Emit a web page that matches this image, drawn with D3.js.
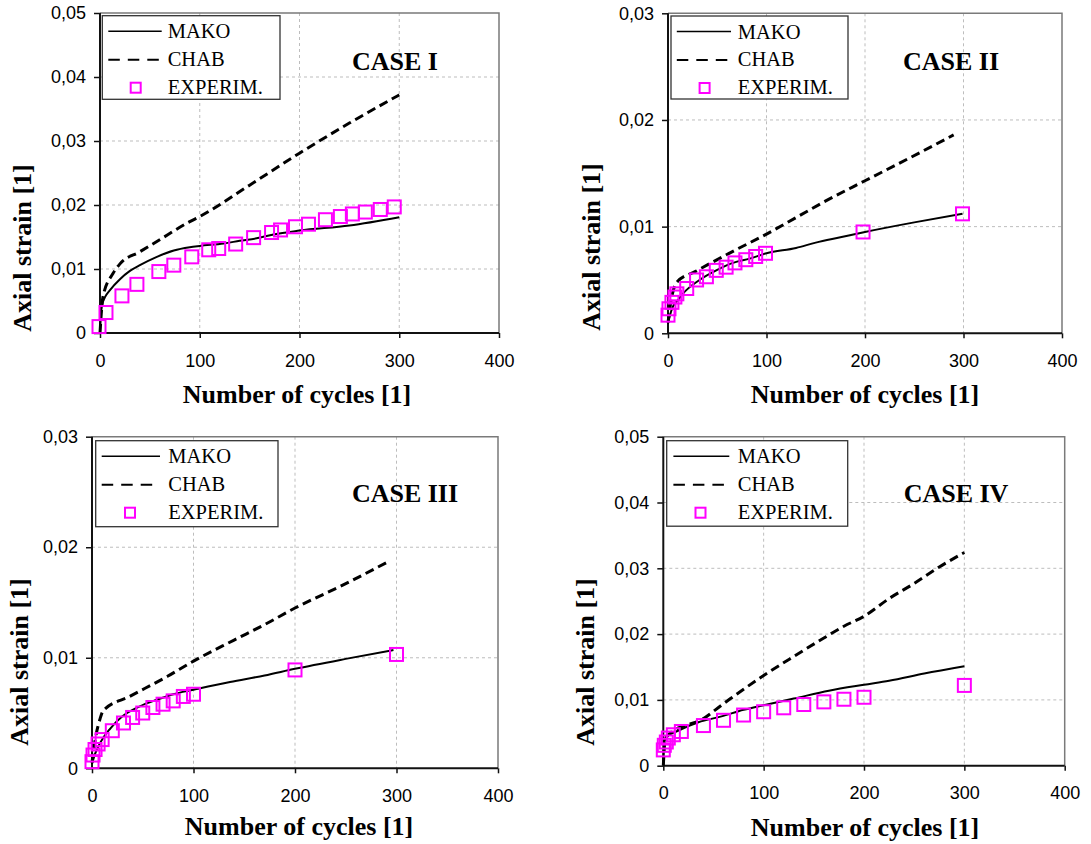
<!DOCTYPE html>
<meta charset="utf-8">
<style>
	body {
		margin: 0;
		background: #fff;
	}
	svg text {
		fill: #000;
	}
</style>
<body>
<script src="https://cdn.jsdelivr.net/npm/d3@7"></script>
<script>
	// ---- data: [cycles, axial strain] ----
	var cycleTicks = [0, 100, 200, 300, 400];
	var seriesNames = ["MAKO", "CHAB", "EXPERIM."];
	var caseTitles = ["CASE I", "CASE II", "CASE III", "CASE IV"];
	var strainMax = [0.05, 0.03, 0.03, 0.05];

	var case1Mako = [[0, 0], [1, 0.003], [2, 0.0043], [5, 0.0056], [10, 0.0067], [20, 0.0084], [30, 0.0097], [40, 0.0106], [57, 0.0119], [74, 0.0129], [90, 0.0134], [100, 0.0136], [124, 0.0140], [140, 0.0144], [157, 0.0148], [174, 0.0154], [200, 0.0160], [250, 0.0168], [300, 0.0181]];
	var case1Chab = [[0, 0], [3, 0.0057], [13, 0.0093], [20, 0.0108], [40, 0.0127], [57, 0.0143], [90, 0.0174], [100, 0.0182], [150, 0.0231], [200, 0.0281], [250, 0.0328], [300, 0.0372]];
	var case1ExpN = [-1, 6, 22, 37, 59, 74, 92, 109, 119, 136, 154, 172, 181, 196, 209, 226, 241, 253, 266, 281, 295];
	var case1ExpS = [0.0010, 0.0032, 0.0058, 0.0076, 0.0096, 0.0106, 0.0119, 0.0130, 0.0132, 0.0139, 0.0149, 0.0157, 0.0161, 0.0166, 0.0170, 0.0177, 0.0182, 0.0186, 0.0189, 0.0193, 0.0197];

	var case2Mako = [[0, 0.0009], [2, 0.0017], [5, 0.0025], [10, 0.0031], [15, 0.0037], [32, 0.0050], [49, 0.0059], [66, 0.0066], [83, 0.0070], [100, 0.0075], [130, 0.0080], [150, 0.0085], [175, 0.0090], [200, 0.0095], [250, 0.0104], [299, 0.0112]];
	var case2Chab = [[0, 0.001], [3, 0.003], [9, 0.0048], [28, 0.0058], [62, 0.0075], [100, 0.0093], [131, 0.0109], [158, 0.0123], [200, 0.0143], [234, 0.0159], [290, 0.0186]];
	var case2ExpN = [0, 1, 4, 7, 9, 19, 29, 39, 49, 59, 68, 79, 89, 99, 198, 299];
	var case2ExpS = [0.0017, 0.0023, 0.0029, 0.0034, 0.0037, 0.0042, 0.0050, 0.0053, 0.0059, 0.0062, 0.0066, 0.0069, 0.0072, 0.0075, 0.0095, 0.0112];

	var case3Mako = [[0, 0.0004], [3, 0.0013], [8, 0.0023], [18, 0.0036], [30, 0.0047], [47, 0.0056], [64, 0.0062], [80, 0.0067], [100, 0.0071], [136, 0.0078], [170, 0.0084], [200, 0.0090], [250, 0.0099], [297, 0.0107]];
	var case3Chab = [[0, 0.0005], [3, 0.0025], [8, 0.0045], [11, 0.0052], [37, 0.0065], [74, 0.0083], [100, 0.0097], [140, 0.0116], [170, 0.0130], [200, 0.0145], [250, 0.0167], [294, 0.0188]];
	var case3ExpN = [0, 1, 3, 6, 10, 20, 31, 40, 50, 60, 70, 80, 90, 100, 200, 300];
	var case3ExpS = [0.0006, 0.0012, 0.0017, 0.0022, 0.0026, 0.0034, 0.0041, 0.0046, 0.0050, 0.0055, 0.0058, 0.0061, 0.0065, 0.0067, 0.0089, 0.0103];

	var case4Mako = [[0, 0.0003], [1, 0.0035], [3, 0.0044], [13, 0.0052], [35, 0.0066], [58, 0.0075], [80, 0.0085], [100, 0.0092], [130, 0.0102], [165, 0.0114], [200, 0.0123], [225, 0.0129], [260, 0.0140], [300, 0.0151]];
	var case4Chab = [[0, 0], [2, 0.004], [10, 0.0053], [20, 0.0060], [37, 0.0069], [58, 0.0092], [67, 0.0102], [100, 0.0137], [130, 0.0166], [160, 0.0194], [180, 0.0212], [200, 0.0227], [225, 0.0254], [250, 0.0277], [275, 0.0302], [300, 0.0324]];
	var case4ExpN = [0, 1, 3, 5, 10, 18, 40, 60, 80, 100, 120, 140, 160, 180, 200, 300];
	var case4ExpS = [0.0024, 0.0031, 0.0036, 0.0042, 0.0047, 0.0052, 0.0061, 0.0069, 0.0077, 0.0082, 0.0088, 0.0093, 0.0097, 0.0101, 0.0104, 0.0122];

	// ---- layout of the four panels ----
	var panels = [
		{mako: case1Mako, chab: case1Chab, expN: case1ExpN, expS: case1ExpS,
			left: 100, right: 499, top: 13, bottom: 333,
			leg: {x: 102.3, y: 15.7, w: 177.7, h: 83.6, l0: 108.3, l1: 161.7, sq: 135.7, tx: 167.7},
			title: [395, 70], xLab: [297, 403], yLab: [31, 248]},
		{mako: case2Mako, chab: case2Chab, expN: case2ExpN, expS: case2ExpS,
			left: 668, right: 1062, top: 13.3, bottom: 333.3,
			leg: {x: 671, y: 16, w: 177, h: 83, l0: 676.8, l1: 731, sq: 704.6, tx: 737.8},
			title: [951, 70], xLab: [865, 403], yLab: [600, 247]},
		{mako: case3Mako, chab: case3Chab, expN: case3ExpN, expS: case3ExpS,
			left: 92, right: 498, top: 436.7, bottom: 768.3,
			leg: {x: 95.7, y: 440.7, w: 182.3, h: 86, l0: 101.7, l1: 160, sq: 130, tx: 168.3},
			title: [405, 501.7], xLab: [299, 835], yLab: [28, 662]},
		{mako: case4Mako, chab: case4Chab, expN: case4ExpN, expS: case4ExpS,
			left: 663.3, right: 1064.7, top: 436.7, bottom: 765.7,
			leg: {x: 666.7, y: 440.7, w: 181, h: 85.5, l0: 673.4, l1: 729.3, sq: 700.5, tx: 737.8},
			title: [956, 501.7], xLab: [865, 836], yLab: [594, 662]}
	];

	var serif = "'Liberation Serif', 'Times New Roman', serif";
	var sans = "'Liberation Sans', Arial, sans-serif";
	var magenta = "#ff00ff";

	var locale = d3.formatLocale({decimal: ",", thousands: " ", grouping: [3], currency: ["", ""]});
	var f2 = locale.format(".2f");
	var yFmt = function(d) { return d === 0 ? "0" : f2(d); };

	var svg = d3.select("body").append("svg")
		.attr("width", 1091)
		.attr("height", 844);

	panels.forEach(function(p, i) {
		var x = d3.scaleLinear().domain([0, 400]).range([p.left, p.right]);
		var y = d3.scaleLinear().domain([0, strainMax[i]]).range([p.bottom, p.top]);
		var yTicks = d3.range(0, strainMax[i] + 0.0001, 0.01);

		var g = svg.append("g");

		// grid
		g.selectAll(".hgrid")
			.data(yTicks.slice(1, -1))
			.enter().append("line")
			.attr("x1", p.left).attr("x2", p.right)
			.attr("y1", y).attr("y2", y)
			.attr("stroke", "#bdbdbd").attr("stroke-dasharray", "3,3");
		g.selectAll(".vgrid")
			.data(cycleTicks.slice(1, -1))
			.enter().append("line")
			.attr("x1", x).attr("x2", x)
			.attr("y1", p.top).attr("y2", p.bottom)
			.attr("stroke", "#bdbdbd").attr("stroke-dasharray", "3,3");

		// frame (top + right)
		g.append("path")
			.attr("d", "M" + p.left + "," + p.top + "H" + p.right + "V" + p.bottom)
			.attr("fill", "none").attr("stroke", "#7a7a7a").attr("stroke-width", 1.5);

		// axes
		var yAxis = g.append("g")
			.attr("transform", "translate(" + p.left + ",0)")
			.call(d3.axisLeft(y).tickValues(yTicks).tickFormat(yFmt).tickSize(6).tickPadding(8));
		var xAxis = g.append("g")
			.attr("transform", "translate(0," + p.bottom + ")")
			.call(d3.axisBottom(x).tickValues(cycleTicks).tickSize(5).tickPadding(16));
		[yAxis, xAxis].forEach(function(a) {
			a.attr("font-family", sans).attr("font-size", 18);
			a.select(".domain").attr("stroke", "#111").attr("stroke-width", 2);
			a.selectAll(".tick line").attr("stroke", "#111").attr("stroke-width", 1.5);
		});
		xAxis.select(".domain").attr("d", "M" + p.left + ",0H" + p.right);
		yAxis.select(".domain").attr("d", "M0," + p.bottom + "V" + p.top);

		// model curves
		var line = d3.line()
			.x(function(d) { return x(d[0]); })
			.y(function(d) { return y(d[1]); })
			.curve(d3.curveMonotoneX);

		g.append("path")
			.datum(p.chab)
			.attr("d", line)
			.attr("fill", "none").attr("stroke", "#000")
			.attr("stroke-width", 3).attr("stroke-dasharray", "9,5");
		g.append("path")
			.datum(p.mako)
			.attr("d", line)
			.attr("fill", "none").attr("stroke", "#000").attr("stroke-width", 2);

		// experiment squares
		var s = 13;
		g.selectAll(".exp")
			.data(p.expN)
			.enter().append("rect")
			.attr("x", function(d) { return x(d) - s / 2; })
			.attr("y", function(d, j) { return y(p.expS[j]) - s / 2; })
			.attr("width", s).attr("height", s)
			.attr("fill", "none").attr("stroke", magenta).attr("stroke-width", 2);

		// legend
		var L = p.leg;
		var rows = [L.y + 22.5, L.y + 50, L.y + 78];
		g.append("rect")
			.attr("x", L.x).attr("y", L.y).attr("width", L.w).attr("height", L.h)
			.attr("fill", "#fff").attr("stroke", "#333").attr("stroke-width", 1.3);
		g.append("line")
			.attr("x1", L.l0).attr("x2", L.l1)
			.attr("y1", rows[0] - 7).attr("y2", rows[0] - 7)
			.attr("stroke", "#000").attr("stroke-width", 1.6);
		g.append("line")
			.attr("x1", L.l0).attr("x2", L.l1)
			.attr("y1", rows[1] - 6).attr("y2", rows[1] - 6)
			.attr("stroke", "#000").attr("stroke-width", 2).attr("stroke-dasharray", "11.5,8");
		g.append("rect")
			.attr("x", L.sq - 5).attr("y", rows[2] - 11).attr("width", 10).attr("height", 10)
			.attr("fill", "none").attr("stroke", magenta).attr("stroke-width", 2);
		g.selectAll(".legtext")
			.data(seriesNames)
			.enter().append("text")
			.attr("x", L.tx)
			.attr("y", function(d, j) { return rows[j]; })
			.attr("font-family", serif).attr("font-size", 20.5)
			.text(function(d) { return d; });

		// titles & labels
		g.append("text")
			.attr("x", p.title[0]).attr("y", p.title[1])
			.attr("text-anchor", "middle")
			.attr("font-family", serif).attr("font-weight", "bold").attr("font-size", 26)
			.text(caseTitles[i]);
		g.append("text")
			.attr("x", p.xLab[0]).attr("y", p.xLab[1])
			.attr("text-anchor", "middle")
			.attr("font-family", serif).attr("font-weight", "bold").attr("font-size", 26)
			.text("Number of cycles [1]");
		g.append("text")
			.attr("transform", "translate(" + p.yLab[0] + "," + p.yLab[1] + ") rotate(-90)")
			.attr("text-anchor", "middle")
			.attr("font-family", serif).attr("font-weight", "bold").attr("font-size", 26)
			.text("Axial strain [1]");
	});
</script>
</body>
